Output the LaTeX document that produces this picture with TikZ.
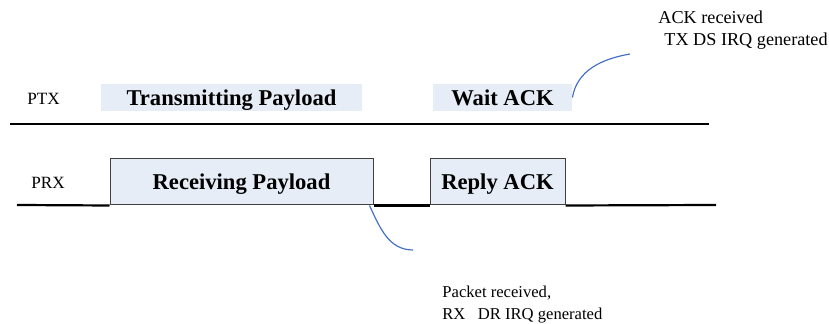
\documentclass[tikz,border=0pt]{standalone}
\usepackage{fontspec}
\setmainfont{Liberation Serif}
\definecolor{boxfill}{RGB}{230,237,247}
\definecolor{irqblue}{RGB}{68,114,196}

\begin{document}
\begin{tikzpicture}[x=0.5pt,y=-0.5pt,
      state/.style={fill=boxfill,inner sep=0pt,text depth=0pt,
                    font=\fontsize{11.3}{13}\selectfont\bfseries},
      rxstate/.style={state,draw=black!75,line width=0.5pt},
      label/.style={anchor=base west,inner sep=0pt,
                    font=\fontsize{8.6}{10}\selectfont},
      bignote/.style={label,font=\fontsize{9.1}{10}\selectfont},
      smallnote/.style={label,font=\fontsize{8.3}{10}\selectfont},
      wire/.style={line width=1.1pt},
      irq/.style={irqblue,line width=0.6pt}]
      \useasboundingbox (0,0) rectangle (829,324);

      % PTX side
      \node[label] (ptx) at (27,105) {PTX};
      \node[state,minimum width=130.5pt,minimum height=13.5pt] (txbox)
            at (231.5,97.5) {Transmitting Payload};
      \node[state,minimum width=69.5pt,minimum height=13.5pt] (waitbox)
            at (502.5,97.5) {Wait ACK};
      \coordinate (txstart) at (10,124);
      \coordinate (txend) at (709,124);
      \draw[wire] (txstart) -- (txend);

      % PRX side
      \node[label] (prx) at (31,189) {PRX};
      \node[rxstate,minimum width=131.5pt,minimum height=23pt] (rxbox)
            at (241.5,182) {Receiving Payload};
      \node[rxstate,minimum width=67.5pt,minimum height=23pt] (ackbox)
            at (497.5,182) {Reply ACK};
      \coordinate (rxstart) at (17,205);
      \coordinate (rxend) at (716,205);
      \draw[wire] (rxstart) -- (rxbox.south west);
      \draw[wire] (rxbox.south east) -- (ackbox.south west);
      \draw[wire] (ackbox.south east) -- (rxend);

      % interrupt notes
      \node[bignote] (acknote) at (658,24) {ACK received};
      \node[bignote] (txirq) at (664,46) {TX DS IRQ generated};
      \node[smallnote] (pktnote) at (442,298) {Packet received,};
      \node[smallnote] (rxirq) at (442,320) {RX\ \ \ DR IRQ generated};
      \coordinate (txcall) at (630,54);
      \coordinate (rxcall) at (413,250);
      \draw[irq] (waitbox.east) to[out=80,in=190] (txcall);
      \draw[irq] ([xshift=-2pt]rxbox.south east) to[out=-65,in=180] (rxcall);
\end{tikzpicture}
\end{document}
